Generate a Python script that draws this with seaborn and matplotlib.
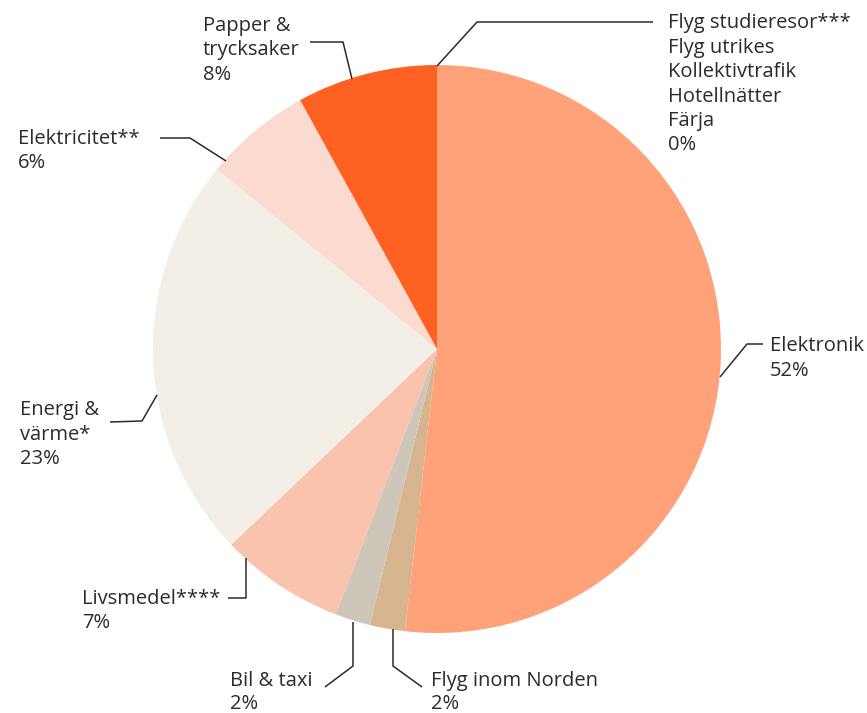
import matplotlib
matplotlib.use("Agg")
import matplotlib.pyplot as plt
import seaborn as sns
import numpy as np

categories = ["Elektronik", "Flyg inom Norden", "Bil & taxi", "Livsmedel****",
              "Energi & värme*", "Elektricitet**", "Papper & trycksaker",
              "Flyg studieresor*** / Flyg utrikes / Kollektivtrafik / Hotellnätter / Färja"]
values = [51.8, 2.0, 2.0, 7.1, 23.0, 6.1, 8.0, 0.0]
pct_labels = ["52%", "2%", "2%", "7%", "23%", "6%", "8%", "0%"]
label_text = ["Elektronik", "Flyg inom Norden", "Bil & taxi", "Livsmedel****",
              "Energi &\nvärme*", "Elektricitet**", "Papper &\ntrycksaker",
              "Flyg studieresor***\nFlyg utrikes\nKollektivtrafik\nHotellnätter\nFärja"]
colors = ["#FFA27A", "#D6B48E", "#CDC6B9", "#F9C3AE", "#F3EFE7", "#FBDAD0", "#FF6122", "#FFA27A"]

sns.set_theme(style="white")
plt.rcParams['font.family'] = ['Open Sans', 'DejaVu Sans']

W, H = 867, 713
fig = plt.figure(figsize=(W / 100, H / 100), dpi=100)
ax = fig.add_axes([0, 0, 1, 1])

cx, cy, r = 437, 349, 284
# inverted y axis: counterclock=True appears clockwise on screen; start at top
ax.pie(values, colors=colors, startangle=-90, counterclock=True, radius=r,
       center=(cx, cy), frame=True, wedgeprops=dict(linewidth=0))
ax.set_xlim(0, W)
ax.set_ylim(H, 0)
ax.set_aspect("equal")
ax.axis("off")

txt_color = "#2B2B2B"
line_kw = dict(color="#2B2B2B", lw=1.1, solid_capstyle="butt")
fs = 14.5

# (leader polyline, text x, text top y, line spacing)
layout = [
    ([(720, 377), (747, 344), (763, 344)], 770, 336, 1.3),
    ([(393, 629), (393, 666), (422, 687)], 431, 671, 1.22),
    ([(353, 622), (353, 666), (325, 687)], 230, 671, 1.22),
    ([(246, 558), (246, 598), (228, 598)], 82, 589, 1.3),
    ([(157, 395), (142, 421), (110, 422)], 20, 400, 1.3),
    ([(226, 161), (190, 138), (160, 138)], 18, 129, 1.3),
    ([(352, 79), (343, 42), (310, 42)], 203, 16, 1.3),
    ([(437, 66), (477, 22), (653, 22)], 668, 13, 1.3),
]

for (pts, tx, ty, ls), lab, pct in zip(layout, label_text, pct_labels):
    xs, ys = zip(*pts)
    ax.plot(xs, ys, **line_kw)
    ax.text(tx, ty, lab + "\n" + pct, ha="left", va="top", fontsize=fs,
            color=txt_color, linespacing=ls)

fig.savefig("out.png", dpi=100)
